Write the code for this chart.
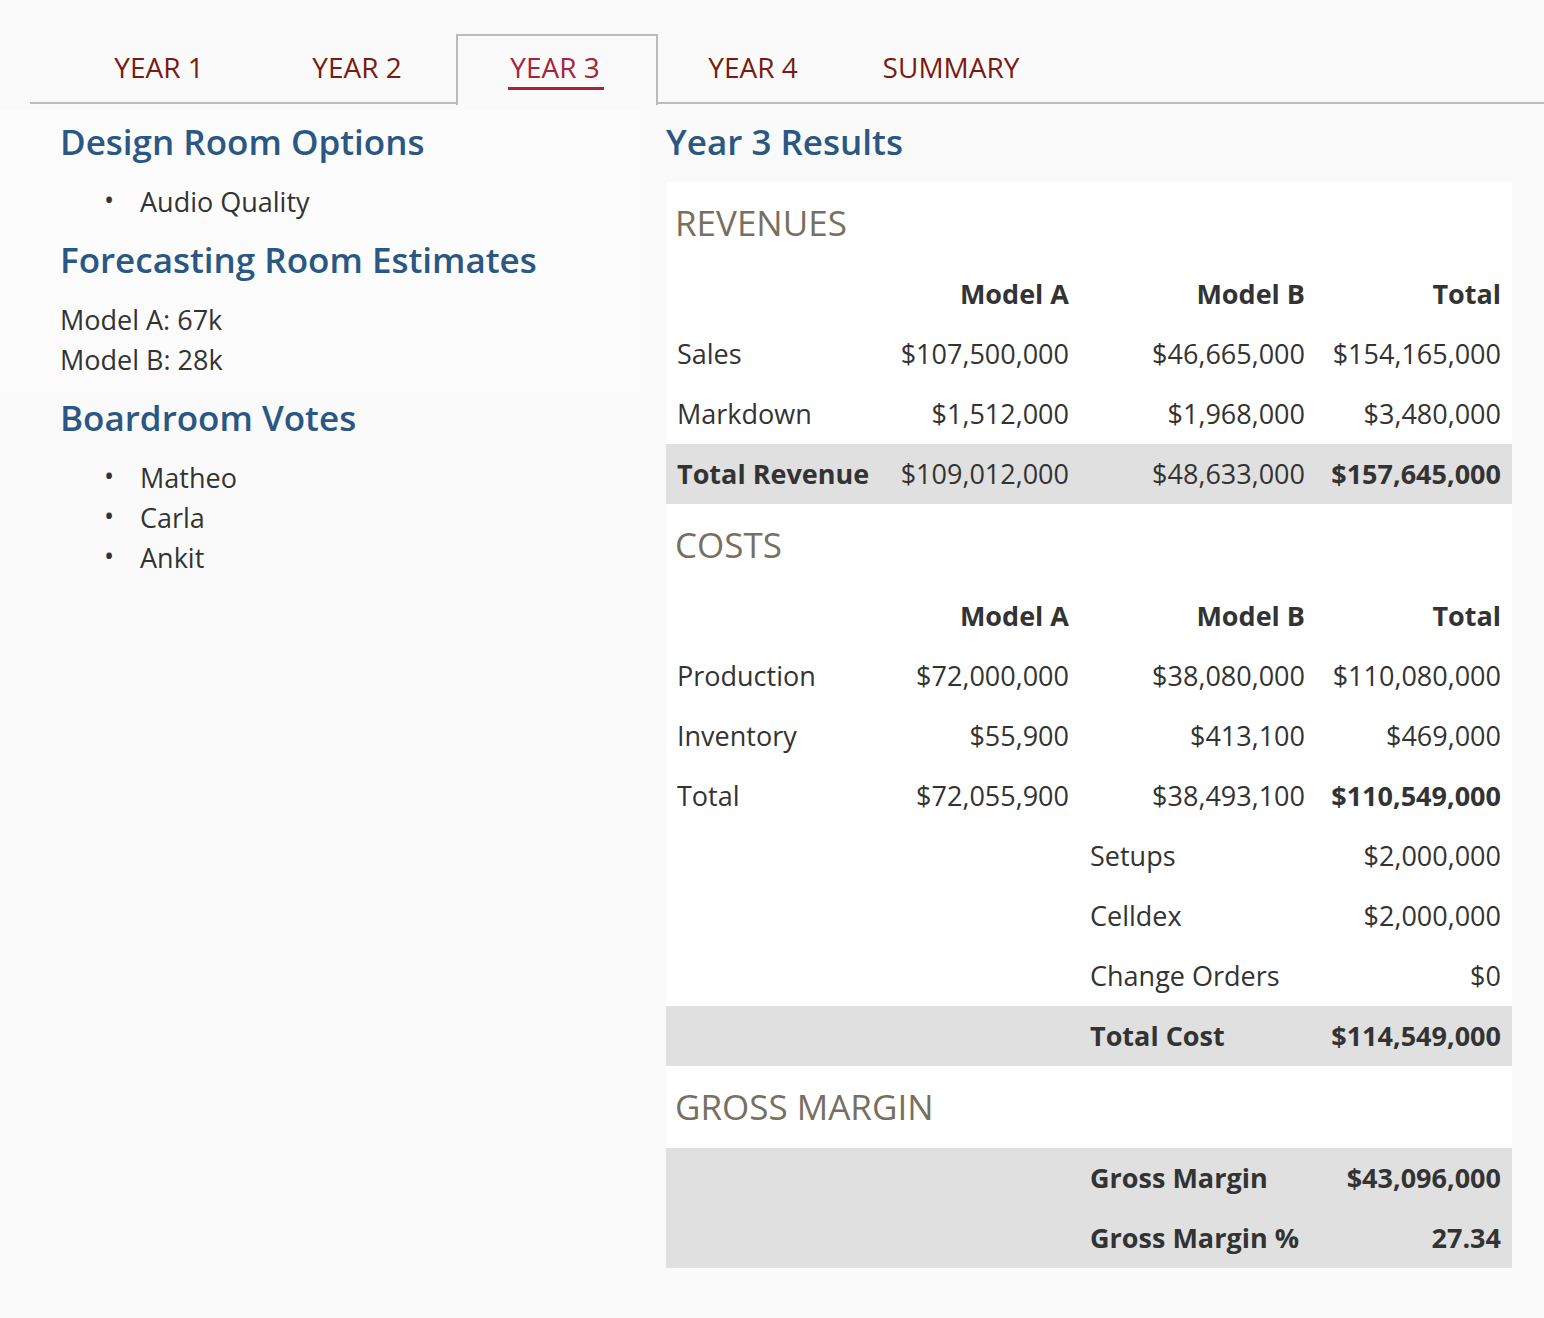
<!DOCTYPE html>
<html><head><meta charset="utf-8">
<script src="https://cdn.jsdelivr.net/npm/chart.js@4"></script>
<style>
body{margin:0;background:#fafafa;font-family:"Open Sans",sans-serif;color:#333;width:1544px;height:1318px;position:relative;overflow:hidden}
.a{position:absolute;white-space:nowrap;line-height:1}
.tab{font-size:28px;color:#7a1a10;width:198px;text-align:center}
.h{font-size:35px;font-weight:600;color:#2a5783}
.t{font-size:27px}
.sec{font-size:35px;color:#77705f}
.b{font-weight:700}
.r{text-align:right}
</style></head><body>
<div id="page"></div>
<script>
// ===== DATA =====
const tabs = ["YEAR 1", "YEAR 2", "YEAR 3", "YEAR 4", "SUMMARY"]
const designOptions = ["Audio Quality"]
const estimates = ["Model A: 67k", "Model B: 28k"]
const votes = ["Matheo", "Carla", "Ankit"]
const colHeads = ["Model A", "Model B", "Total"]
const revenueRows = [
    ["Sales", "$107,500,000", "$46,665,000", "$154,165,000"],
    ["Markdown", "$1,512,000", "$1,968,000", "$3,480,000"],
    ["Total Revenue", "$109,012,000", "$48,633,000", "$157,645,000"]
]
const costRows = [
    ["Production", "$72,000,000", "$38,080,000", "$110,080,000"],
    ["Inventory", "$55,900", "$413,100", "$469,000"],
    ["Total", "$72,055,900", "$38,493,100", "$110,549,000"]
]
const extraCosts = [["Setups", "$2,000,000"], ["Celldex", "$2,000,000"], ["Change Orders", "$0"], ["Total Cost", "$114,549,000"]]
const marginRows = [["Gross Margin", "$43,096,000"], ["Gross Margin %", "27.34"]]

const page = document.getElementById("page")
let html = ""
function put(cls, x, y, txt, style) {
    html += `<div class="a ${cls}" style="left:${x}px;top:${y}px;${style || ""}">${txt}</div>`
}
function box(x, y, w, h, style) {
    html += `<div class="a" style="left:${x}px;top:${y}px;width:${w}px;height:${h}px;${style}"></div>`
}
// center-y based text helper
function cell(cls, x, cy, txt, right) {
    if (right) put(cls + " r", x - 400, cy - 14, txt, "width:400px")
    else put(cls, x, cy - 14, txt)
}

// tabs
box(30, 102, 1514, 0, "border-top:2px solid #bbb")
box(456, 34, 198, 69, "border:2px solid #bbb;border-bottom:none;background:#fafafa")
tabs.forEach((t, i) => {
    put("tab", 60 + i * 198, 53, t, i === 2 ? "color:#a8233a" : "")
})
box(508, 87, 96, 0, "border-top:3px solid #a8233a")

// left column
box(0, 110, 640, 285, "background:#fff;opacity:.35")
put("h", 60, 124, "Design Room Options")
designOptions.forEach((d, i) => { put("t", 104, 186 + i * 40, "•"); put("t", 140, 188 + i * 40, d) })
put("h", 60, 242, "Forecasting Room Estimates")
estimates.forEach((e, i) => put("t", 60, 306 + i * 40, e))
put("h", 60, 400, "Boardroom Votes")
votes.forEach((v, i) => { put("t", 104, 462 + i * 40, "•"); put("t", 140, 464 + i * 40, v) })

// right panel
put("h", 666, 124, "Year 3 Results")
box(666, 182, 846, 1086, "background:#fff")
box(666, 444, 846, 60, "background:#e0e0e0")
box(666, 1006, 846, 60, "background:#e0e0e0")
box(666, 1148, 846, 120, "background:#e0e0e0")

const colX = [1069, 1305, 1501]
function table(secName, secY, rows) {
    put("sec", 675, secY - 18, secName)
    let y = secY + 71
    colHeads.forEach((c, i) => cell("t b", colX[i], y, c, true))
    rows.forEach((r, k) => {
        y += 60
        const last = k === rows.length - 1
        cell("t" + (last && secName === "REVENUES" ? " b" : ""), 677, y, r[0])
        r.slice(1).forEach((v, i) => cell("t" + (last && i === 2 ? " b" : ""), colX[i], y, v, true))
    })
    return y
}
table("REVENUES", 223, revenueRows)
let y = table("COSTS", 545, costRows)
extraCosts.forEach((r, k) => {
    y += 60
    const last = k === extraCosts.length - 1
    cell("t" + (last ? " b" : ""), 1090, y, r[0])
    cell("t" + (last ? " b" : ""), 1501, y, r[1], true)
})
put("sec", 675, 1107 - 18, "GROSS MARGIN")
marginRows.forEach((r, k) => {
    cell("t b", 1090, 1178 + k * 60, r[0])
    cell("t b", 1501, 1178 + k * 60, r[1], true)
})
page.innerHTML = html
</script>
</body></html>
